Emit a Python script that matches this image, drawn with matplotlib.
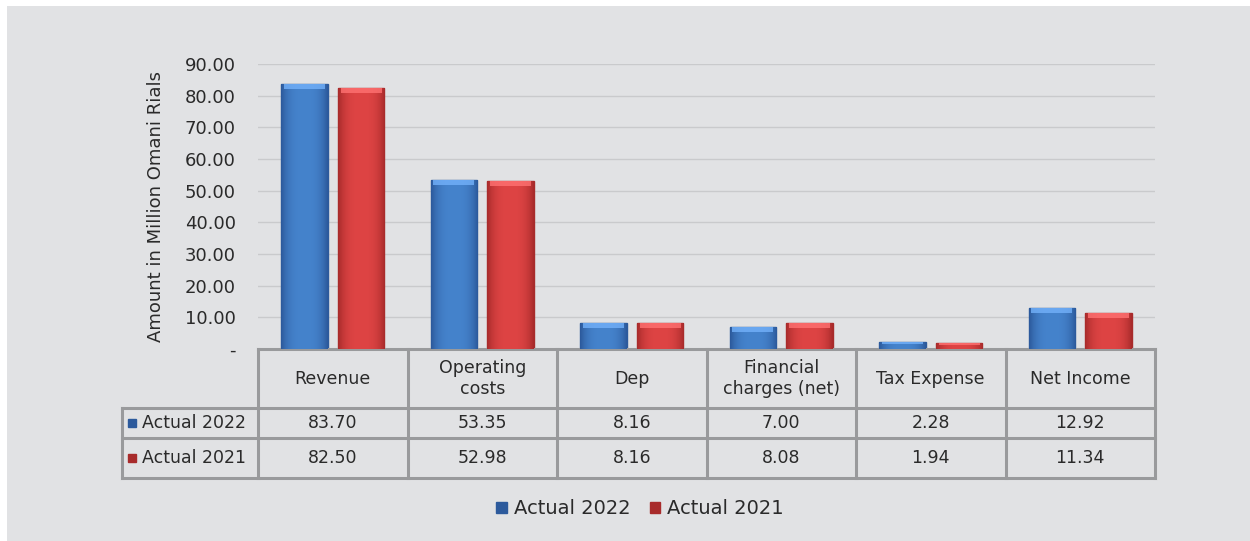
import numpy as np
import matplotlib.pyplot as plt
from matplotlib.patches import Rectangle, Patch
from matplotlib.ticker import FuncFormatter
from matplotlib.colors import to_rgb

categories = ['Revenue', 'Operating\ncosts', 'Dep', 'Financial\ncharges (net)',
              'Tax Expense', 'Net Income']
series_names = ['Actual 2022', 'Actual 2021']
actual_2022 = [83.70, 53.35, 8.16, 7.00, 2.28, 12.92]
actual_2021 = [82.50, 52.98, 8.16, 8.08, 1.94, 11.34]
yticks = [0, 10, 20, 30, 40, 50, 60, 70, 80, 90]

BG = '#e1e2e4'
GRID = '#c9cacc'
LINE = '#999a9c'
TXT = '#2a2a2a'
colors = {'Actual 2022': ('#4583cc', '#2c5a9c'),
          'Actual 2021': ('#de4444', '#a82b2b')}

plt.rcParams['font.family'] = ['DejaVu Sans']

W, H = 1250, 541
fig = plt.figure(figsize=(W / 100, H / 100), dpi=100, facecolor='white')
fig.patches.append(Rectangle((7 / W, 0), 1, 1 - 6 / H, transform=fig.transFigure,
                             facecolor=BG, edgecolor='none', zorder=-10))

ax_l, ax_r, ax_b, ax_t = 258, 1155, 349, 64
ax = fig.add_axes([ax_l / W, 1 - ax_b / H, (ax_r - ax_l) / W, (ax_b - ax_t) / H])
ax.set_facecolor('none')
ax.set_xlim(-0.5, len(categories) - 0.5)
ax.set_ylim(0, 90)
ax.set_yticks(yticks)
ax.yaxis.set_major_formatter(FuncFormatter(lambda v, p: '-' if v == 0 else f'{v:.2f}'))
ax.tick_params(axis='y', length=0, pad=16, labelsize=13, labelcolor=TXT)
ax.set_xticks([])
for s in ax.spines.values():
    s.set_visible(False)
ax.grid(axis='y', color=GRID, linewidth=1)
ax.set_axisbelow(True)
ax.set_ylabel('Amount in Million Omani Rials', fontsize=13, color=TXT, labelpad=14)


def gradient_bar(ax, x, h, width, name):
    light, dark = colors[name]
    light, dark = np.array(to_rgb(light)), np.array(to_rgb(dark))
    bar = ax.bar(x, h, width=width, color=light, edgecolor=dark, linewidth=1.0,
                 zorder=2)[0]
    t = np.linspace(-1, 1, 60)
    w = np.clip(np.abs(t) ** 3, 0, 1)[:, None]
    row = light * (1 - w) + dark * w
    img = np.tile(row[None, :, :], (4, 1, 1))
    im = ax.imshow(img, extent=(x - width / 2, x + width / 2, 0, h),
                   aspect='auto', zorder=2.5, interpolation='bilinear')
    im.set_clip_path(bar)
    # top bevel highlight
    top = min(1.6, h * 0.3)
    hl = np.clip(light + 0.18, 0, 1)
    ax.add_patch(Rectangle((x - width / 2 + width * 0.06, h - top), width * 0.88, top,
                           facecolor=hl, edgecolor='none', alpha=0.8, zorder=3))


bw = 0.31
offs = [-0.19, 0.19]
for name, vals, off in zip(series_names, [actual_2022, actual_2021], offs):
    for i, v in enumerate(vals):
        gradient_bar(ax, i + off, v, bw, name)

# data table below the axes
tr = ax.get_xaxis_transform()
ph = ax_b - ax_t
y_head = (ax_b - 408) / ph
y_r1 = (ax_b - 438) / ph
y_r2 = (ax_b - 478) / ph
col_w = (ax_r - ax_l) / len(categories)
x_lab = -0.5 - (ax_l - 122) / col_w
n = len(categories)
lk = dict(color=LINE, linewidth=2.2, clip_on=False, transform=tr, solid_capstyle='projecting')
ax.plot([-0.5, n - 0.5], [0, 0], **lk)
for yy in [y_head, y_r1, y_r2]:
    ax.plot([x_lab, n - 0.5], [yy, yy], **lk)
for xx in np.arange(-0.5, n, 1.0):
    ax.plot([xx, xx], [0, y_r2], **lk)
ax.plot([x_lab, x_lab], [y_head, y_r2], **lk)

for i, c in enumerate(categories):
    ax.text(i, y_head / 2, c, ha='center', va='center', fontsize=12.5, color=TXT,
            transform=tr, linespacing=1.15)
    ax.text(i, (y_head + y_r1) / 2, f'{actual_2022[i]:.2f}', ha='center', va='center',
            fontsize=12.5, color=TXT, transform=tr)
    ax.text(i, (y_r1 + y_r2) / 2, f'{actual_2021[i]:.2f}', ha='center', va='center',
            fontsize=12.5, color=TXT, transform=tr)

for name, (y0, y1) in zip(series_names, [(y_head, y_r1), (y_r1, y_r2)]):
    ym = (y0 + y1) / 2
    ax.plot([x_lab + 10 / col_w], [ym], marker='s', markersize=5.5, color=colors[name][1],
            markeredgecolor=colors[name][1], clip_on=False, transform=tr)
    ax.text(x_lab + 20 / col_w, ym, name, ha='left', va='center', fontsize=12.5,
            color=TXT, transform=tr)

handles = [Patch(facecolor=colors[nm][1], edgecolor=colors[nm][1]) for nm in series_names]
fig.legend(handles, series_names, loc='center', bbox_to_anchor=(0.512, 1 - 509 / H),
           ncol=2, frameon=False, fontsize=14, handlelength=0.55, handleheight=0.55,
           handletextpad=0.35, columnspacing=1.0, labelcolor=TXT)

fig.savefig('out.png', dpi=100, facecolor=fig.get_facecolor())
